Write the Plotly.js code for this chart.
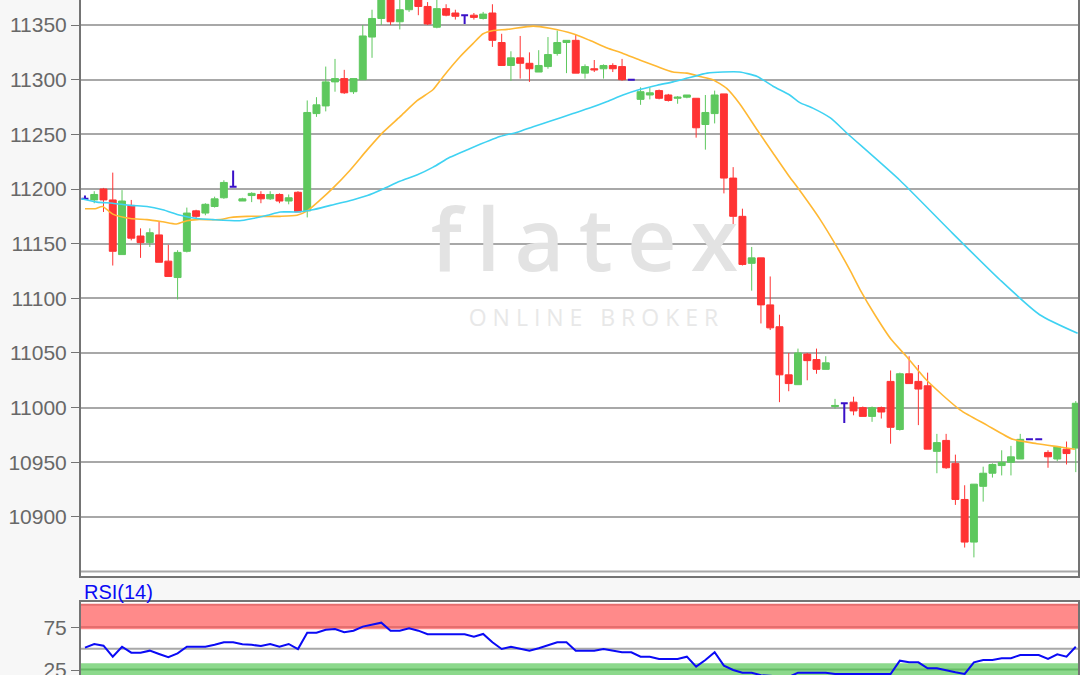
<!DOCTYPE html>
<html>
<head>
<meta charset="utf-8">
<script src="https://cdn.plot.ly/plotly-3.0.1.min.js"></script>
<style>html,body{margin:0;padding:0;background:#f7f7f7;}#chart{width:1080px;height:675px;}</style>
</head>
<body>
<div id="chart"></div>
<script>
// ---- Candle data (one entry per trading period, left to right) ----
const candleOpen = [11191,11190,11200,11190,11140,11185,11157,11151,11158,11134,
11119,11143,11180,11178,11184,11192,11202,11189,11194,11195,
11191,11195,11189,11197,11180,11269,11276,11298,11301,11289,
11300,11339,11356,11378,11353,11364,11373,11367,11348,11365,
11361,11359,11359,11356,11361,11334,11313,11320,11315,11307,
11312,11324,11334,11336,11306,11310,11310,11313,11312,11300,
11282,11286,11290,11286,11283,11284,11283,11259,11269,11287,
11210,11175,11132,11137,11094,11074,11030,11021,11049,11044,
11035,11001,11004,11005,11000,10992,11000,11024,10980,11031,
11024,11020,10960,10970,10949,10916,10877,10928,10940,10947,
10950,10953,10971,10971,10959,10953,10962,10963];
const candleHigh = [11194,11198,11201,11215,11199,11190,11164,11164,11170,11149,
11144,11183,11181,11187,11193,11208,11217,11192,11197,11198,
11198,11196,11195,11198,11281,11284,11312,11319,11309,11301,
11350,11364,11382,11382,11373,11380,11376,11371,11373,11369,
11364,11359,11361,11362,11369,11342,11326,11340,11325,11327,
11339,11345,11336,11341,11314,11318,11314,11315,11319,11300,
11293,11293,11291,11287,11285,11286,11283,11286,11290,11287,
11220,11182,11147,11137,11120,11085,11050,11054,11050,11054,
11047,11008,11004,11010,11001,11001,11001,11034,11032,11047,
11039,11032,10976,10976,10957,10929,10930,10946,10949,10961,
10965,10976,10971,10971,10961,10964,10969,11006];
const candleLow = [11190,11187,11179,11130,11140,11153,11137,11147,11133,11120,
11099,11142,11173,11176,11183,11191,11202,11189,11188,11187,
11190,11187,11186,11179,11174,11266,11271,11289,11287,11287,
11300,11320,11350,11350,11346,11362,11359,11350,11347,11358,
11355,11351,11355,11355,11330,11313,11299,11301,11298,11307,
11310,11322,11306,11306,11301,11307,11301,11307,11299,11300,
11277,11282,11282,11280,11278,11283,11247,11236,11260,11196,
11167,11130,11107,11077,11071,11005,11015,11021,11025,11031,
11035,10999,10986,10993,10992,10987,10990,10967,10979,11022,
10984,10962,10940,10944,10911,10872,10863,10914,10936,10938,
10938,10953,10971,10971,10945,10951,10948,10941];
const candleClose = [11191,11195,11190,11143,11189,11155,11151,11160,11133,11120,
11142,11178,11175,11186,11191,11206,11202,11191,11196,11191,
11195,11189,11192,11179,11270,11277,11298,11301,11288,11301,
11340,11356,11378,11353,11364,11375,11367,11351,11365,11359,
11358,11359,11357,11360,11336,11313,11320,11315,11310,11313,
11323,11334,11336,11306,11312,11309,11313,11310,11300,11300,
11289,11288,11283,11281,11284,11286,11256,11270,11286,11210,
11175,11131,11137,11094,11073,11030,11022,11050,11043,11035,
11041,11002,11004,10997,10992,11000,10996,10982,11031,11022,
11017,10962,10968,10945,10916,10877,10930,10940,10948,10950,
10955,10971,10971,10971,10955,10964,10958,11004];

// ---- Moving averages (period index, value) ----
const maFastIdx = [0,1.1,1.9,3,4.9,6.7,8.4,9.9,11,12.1,14.6,15.7,17.5,19.2,21.1,22.9,24,25.4,26.8,28.6,30.5,32.2,34,35.9,37.6,38.7,40.5,41.9,43,44.1,45.6,48.4,50.2,52.7,54.5,56.4,58.1,59.9,61.8,63.5,65,66.4,67.8,69.3,70.7,72.6,74.3,76.1,76.9,79.4,81.2,82.6,83.7,85.3,87.1,88.7,90.9,94.5,97.4,100.2,102.8,105.3,106.9];
const maFastVal = [11182,11182,11184,11177,11173,11172,11170,11168,11171,11172,11172,11174,11175,11175,11175,11176,11180,11190,11201,11217,11236,11252,11266,11281,11291,11303,11321,11333,11342,11345,11346,11349,11347,11342,11336,11329,11324,11318,11312,11307,11306,11303,11300,11292,11278,11254,11233,11211,11202,11172,11147,11126,11108,11085,11062,11047,11025,10998,10984,10971,10967,10964,10962];
const maSlowIdx = [-0.4,1.3,3,4.9,6.7,8.4,10.3,12.1,13.8,16.7,18.1,19.7,21.1,22.9,24.6,26.5,28.9,30.5,32.2,34,35.9,37.6,39.4,41.3,44.8,46.7,48.4,50.2,52.7,54.5,56.4,58.1,59.9,61.8,63.5,65.3,67.2,68.9,70.7,72.6,74.3,76.1,77.2,78.6,80.5,82.3,88,93.4,98.8,103.1,107.2];
const maSlowVal = [11191,11188,11187,11185,11184,11181,11176,11173,11172,11171,11173,11176,11179,11179,11181,11185,11190,11194,11200,11207,11213,11220,11229,11236,11248,11252,11257,11262,11269,11274,11280,11286,11291,11295,11298,11302,11306,11307,11307,11303,11294,11286,11279,11274,11265,11251,11208,11162,11117,11085,11068];

// ---- RSI(14) ----
const rsiVal = [51.2,55.5,53.5,40.7,52.3,45.3,45.3,47.7,43.8,40,
44.6,52.3,52.3,52.3,54.5,57.4,57.4,55.1,54.5,53.1,
55.5,52.3,55.5,49.6,68.7,68.7,72,73,69.1,71,
75.7,77.7,80.3,71,71,73.8,71,66.8,66.8,66.8,
66.8,66.8,64,67.2,57.4,49.6,52.3,49.6,47.7,50.5,
53.5,57.4,57.4,47.7,47.7,47.7,49.6,47.7,45.8,45.8,
40.7,40.7,38,38,38,40.7,29,36.8,45.8,30.2,
25.1,22,22,19,18,17,17,22,22,21.3,
22,20.5,20.5,20.5,20.5,20.5,20.5,20.5,36,34.1,
34.1,27.1,27.1,24.3,22.4,20.5,34.1,36.8,36.8,38.8,
38.8,42.6,42.6,42.6,38,43.5,40.7,52.3];

const priceTicks = [10900,10950,11000,11050,11100,11150,11200,11250,11300,11350];
const rsiTicks = [25,75];

// ---- build traces ----
const idx = candleOpen.map((_, i) => i);
const isDoji = idx.map(i => candleOpen[i] === candleClose[i]);
const pick = (arr, want) => idx.filter(i => isDoji[i] === want).map(i => arr[i]);

const GREEN = '#5ec85e', RED = '#ff3333', DOJI = '#3a10c8';
const xRange = [-0.43, 107.24];
const yRange = [10846, 11372.9];
const frac = (r, f) => r[0] + f * (r[1] - r[0]);

const watermark = {
  type: 'scatter', mode: 'text', xaxis: 'x', yaxis: 'y', hoverinfo: 'skip', showlegend: false,
  x: [frac(xRange, 0.505), frac(xRange, 0.514)],
  y: [frac(yRange, 0.566), frac(yRange, 0.444)],
  text: ['f\u2009l\u2009a\u2009t\u2009e\u2009x', 'O N L I N E   B R O K E R'],
  textfont: {family: 'Open Sans', size: [86, 23], color: ['#e3e3e3', '#e8e8e8'], weight: [600, 'normal']},
  textposition: 'middle center'
};

const candles = {
  type: 'candlestick', xaxis: 'x', yaxis: 'y', showlegend: false, hoverinfo: 'skip',
  x: pick(idx, false), open: pick(candleOpen, false), high: pick(candleHigh, false),
  low: pick(candleLow, false), close: pick(candleClose, false),
  increasing: {line: {color: GREEN, width: 1}, fillcolor: GREEN},
  decreasing: {line: {color: RED, width: 1}, fillcolor: RED},
  whiskerwidth: 0
};
const dojis = {
  type: 'candlestick', xaxis: 'x', yaxis: 'y', showlegend: false, hoverinfo: 'skip',
  x: pick(idx, true), open: pick(candleOpen, true), high: pick(candleHigh, true),
  low: pick(candleLow, true), close: pick(candleClose, true),
  increasing: {line: {color: DOJI, width: 2}, fillcolor: DOJI},
  decreasing: {line: {color: DOJI, width: 2}, fillcolor: DOJI},
  whiskerwidth: 0
};
const maFast = {type: 'scatter', mode: 'lines', x: maFastIdx, y: maFastVal, xaxis: 'x', yaxis: 'y',
  line: {color: '#ffb833', width: 1.6, shape: 'spline', smoothing: 0.6}, hoverinfo: 'skip', showlegend: false};
const maSlow = {type: 'scatter', mode: 'lines', x: maSlowIdx, y: maSlowVal, xaxis: 'x', yaxis: 'y',
  line: {color: '#3fd2f2', width: 1.6, shape: 'spline', smoothing: 0.6}, hoverinfo: 'skip', showlegend: false};
const rsi = {type: 'scatter', mode: 'lines', x: idx, y: rsiVal, xaxis: 'x2', yaxis: 'y2',
  line: {color: '#0a0af5', width: 2}, hoverinfo: 'skip', showlegend: false};

const gridCol = '#a8a8a8';
const axisCol = '#747474';
const tickFont = {family: 'Liberation Sans, Arial, sans-serif', size: 21, color: '#686868'};

const layout = {
  width: 1080, height: 675,
  margin: {l: 81, r: 2, t: 0, b: 0, pad: 0},
  paper_bgcolor: '#f7f7f7', plot_bgcolor: '#ffffff',
  showlegend: false,
  boxgap: 0.15, boxgroupgap: 0.12,
  xaxis: {domain: [0, 1], anchor: 'y', range: xRange, showticklabels: false, ticks: '',
    showgrid: false, zeroline: false, showline: true, linecolor: axisCol, linewidth: 2,
    rangeslider: {visible: false}, fixedrange: true},
  yaxis: {domain: [0.1467, 1], anchor: 'x', range: yRange, tickvals: priceTicks,
    ticktext: priceTicks.map(String), ticks: 'outside', ticklen: 8, tickcolor: axisCol, tickwidth: 1,
    tickfont: tickFont, showgrid: true, gridcolor: gridCol, gridwidth: 2, zeroline: false,
    showline: true, linecolor: axisCol, linewidth: 2, mirror: true, ticklabeloverflow: 'allow'},
  xaxis2: {domain: [0, 1], anchor: 'y2', range: xRange, showticklabels: false, ticks: '',
    showgrid: false, zeroline: false, showline: true, linecolor: axisCol, linewidth: 2, mirror: true,
    rangeslider: {visible: false}},
  yaxis2: {domain: [0, 0.1086], anchor: 'x2', range: [19.3, 104.8], tickvals: rsiTicks,
    ticktext: rsiTicks.map(String), ticks: 'outside', ticklen: 8, tickcolor: axisCol,
    tickfont: tickFont, showgrid: false, zeroline: false, showline: true, linecolor: axisCol,
    linewidth: 2, mirror: true, ticklabeloverflow: 'allow'},
  shapes: [
    {type: 'line', xref: 'paper', x0: 0, x1: 1, yref: 'y', y0: 10850, y1: 10850,
      line: {color: gridCol, width: 2}, layer: 'below'},
    {type: 'rect', xref: 'paper', x0: 0, x1: 1, yref: 'y2', y0: 72.6, y1: 102.2,
      fillcolor: '#ff8a8a', line: {width: 0}, layer: 'below'},
    {type: 'line', xref: 'paper', x0: 0, x1: 1, yref: 'y2', y0: 75.3, y1: 75.3,
      line: {color: '#e56e6e', width: 2}, layer: 'below'},
    {type: 'line', xref: 'paper', x0: 0, x1: 1, yref: 'y2', y0: 101.2, y1: 101.2,
      line: {color: '#e56e6e', width: 2}, layer: 'below'},
    {type: 'rect', xref: 'paper', x0: 0, x1: 1, yref: 'y2', y0: 0, y1: 33,
      fillcolor: '#8cd98c', line: {width: 0}, layer: 'below'},
    {type: 'line', xref: 'paper', x0: 0, x1: 1, yref: 'y2', y0: 25.7, y1: 25.7,
      line: {color: '#66bb66', width: 2}, layer: 'below'},
    {type: 'line', xref: 'paper', x0: 0, x1: 1, yref: 'y2', y0: 50, y1: 50,
      line: {color: gridCol, width: 2}, layer: 'below'}
  ],
  annotations: [
    {text: 'RSI(14)', xref: 'paper', yref: 'paper', x: 0.001, y: (675 - 592) / 675,
      xanchor: 'left', yanchor: 'middle', showarrow: false,
      font: {family: 'Liberation Sans, Arial, sans-serif', size: 20, color: '#0a0af5'}}
  ]
};

Plotly.newPlot('chart', [watermark, maFast, maSlow, candles, dojis, rsi], layout,
  {staticPlot: true, displayModeBar: false});
</script>
</body>
</html>
